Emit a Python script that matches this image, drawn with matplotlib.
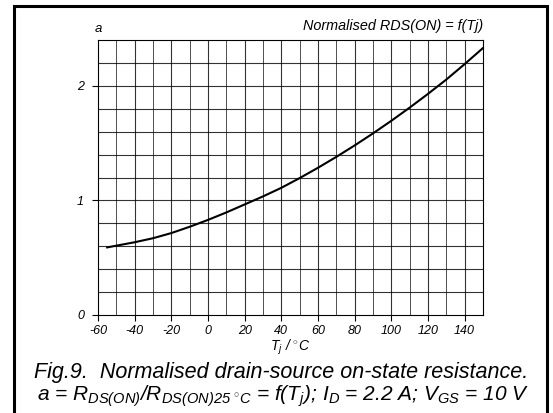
import numpy as np
import matplotlib.pyplot as plt
from matplotlib.patches import Rectangle

# curve values (every 10 degC)
tj = [-55, -50, -40, -30, -20, -10, 0, 10, 20, 30, 40, 50, 60, 70, 80, 90, 100, 110, 120, 130, 140, 150]
a_vals = [0.59, 0.605, 0.635, 0.67, 0.715, 0.77, 0.83, 0.895, 0.965, 1.035, 1.11, 1.195, 1.285,
          1.38, 1.48, 1.585, 1.695, 1.81, 1.93, 2.055, 2.19, 2.33]

x_ticks = [-60, -40, -20, 0, 20, 40, 60, 80, 100, 120, 140]
y_ticks = [0, 1, 2]

plt.rcParams['font.family'] = 'Liberation Sans'
plt.rcParams['font.style'] = 'italic'
plt.rcParams['mathtext.fontset'] = 'custom'
plt.rcParams['mathtext.rm'] = 'Liberation Sans:italic'
plt.rcParams['mathtext.it'] = 'Liberation Sans:italic'

fig = plt.figure(figsize=(5.53, 4.13), dpi=100)
ax = fig.add_axes([0.1772, 0.2373, 0.6962, 0.6658])

# grid: every 10 degC and every 0.2
for xv in np.arange(-50, 150, 10):
    ax.axvline(xv, color='black', lw=0.8 if xv % 20 == 0 else 0.6, alpha=0.8, zorder=1)
for yv in np.arange(0.2, 2.4, 0.2):
    ax.axhline(yv, color='black', lw=0.8, alpha=0.8, zorder=1)

ax.plot(tj, a_vals, color='black', lw=1.5, zorder=3)

ax.set_xlim(-60, 150)
ax.set_ylim(0, 2.4)
ax.set_xticks(x_ticks)
ax.set_yticks(y_ticks)
ax.set_xticklabels([str(v) for v in x_ticks])
ax.tick_params(axis='both', labelsize=9, length=4, width=0.8, direction='out', pad=3)
ax.tick_params(axis='y', pad=6)
for s in ax.spines.values():
    s.set_linewidth(0.8)

ax.set_xlabel(r'T$_j$ / $^{\circ}$C', fontsize=10, labelpad=1)
ax.text(0.0, 1.02, 'a', transform=ax.transAxes, fontsize=9.5, ha='center', va='bottom')
ax.text(1.0, 1.025, 'Normalised RDS(ON) = f(Tj)', transform=ax.transAxes,
        fontsize=10.4, ha='right', va='bottom')

fig.text(0.508, 0.097, 'Fig.9.  Normalised drain-source on-state resistance.',
         fontsize=15.5, ha='center', va='center')
fig.text(0.512, 0.041,
         r'a = R$_{DS(ON)}$/R$_{DS(ON)25\ ^{\circ}C}$ = f(T$_j$); I$_D$ = 2.2 A; V$_{GS}$ = 10 V',
         fontsize=15, ha='center', va='center')

# outer frame of the figure
fig.patches.append(Rectangle((0.025, -0.01), 0.965, 0.995, transform=fig.transFigure,
                             fill=False, edgecolor='black', lw=2.2))

fig.savefig('out.png', dpi=100)
